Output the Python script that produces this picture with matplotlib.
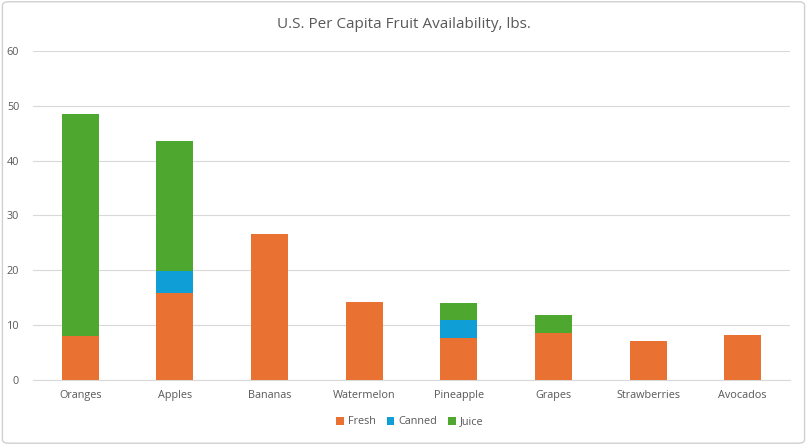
import numpy as np
import matplotlib.pyplot as plt
from matplotlib.patches import FancyBboxPatch

# datos
fruits = ['Oranges', 'Apples', 'Bananas', 'Watermelon', 'Pineapple', 'Grapes', 'Strawberries', 'Avocados']
fresh = [8.0, 15.8, 26.7, 14.3, 7.7, 8.5, 7.2, 8.2]
canned = [0, 4.0, 0, 0, 3.3, 0, 0, 0]
juice = [40.6, 23.7, 0, 0, 3.1, 3.4, 0, 0]

plt.rcParams['font.family'] = ['Open Sans', 'DejaVu Sans']
gray = '#595959'

fig = plt.figure(figsize=(8.07, 4.45), dpi=100)
borde = FancyBboxPatch((0.003, 0.004), 0.994, 0.992, boxstyle='round,pad=0,rounding_size=0.008',
                       transform=fig.transFigure, fc='white', ec='#D0D0D0', lw=1, zorder=-10)
fig.patches.append(borde)
ax = fig.add_axes([33/807, 1-380/445, 757/807, 329/445])
ax.set_facecolor('none')

x = np.arange(len(fruits))
w = 0.39
fresh = np.array(fresh)
canned = np.array(canned)
juice = np.array(juice)
ax.bar(x, fresh, w, color='#E97132', label='Fresh', zorder=3)
ax.bar(x, canned, w, bottom=fresh, color='#0F9ED5', label='Canned', zorder=3)
ax.bar(x, juice, w, bottom=fresh + canned, color='#4EA72E', label='Juice', zorder=3)

ax.set_xlim(-0.5, len(fruits) - 0.5)
ax.set_ylim(0, 60)
ax.set_yticks(range(0, 61, 10))
ax.yaxis.grid(True, color='#D9D9D9', lw=0.8, zorder=0)
for s in ['top', 'right', 'left']:
    ax.spines[s].set_visible(False)
ax.spines['bottom'].set_color('#D9D9D9')
ax.tick_params(axis='both', length=0, colors=gray, labelsize=7.8)
ax.tick_params(axis='y', pad=10)
ax.tick_params(axis='x', pad=7)
ax.set_xticks(x)
ax.set_xticklabels(fruits)

fig.text(0.5, 1-24/445, 'U.S. Per Capita Fruit Availability, lbs.', ha='center', va='center', fontsize=11, color=gray)
fig.legend(loc='center', bbox_to_anchor=(0.508, 1-422/445), ncol=3, frameon=False, fontsize=7.8,
           handlelength=0.7, handleheight=0.7, handletextpad=0.4, columnspacing=1.0, labelcolor=gray)

fig.savefig('out.png', dpi=100)
